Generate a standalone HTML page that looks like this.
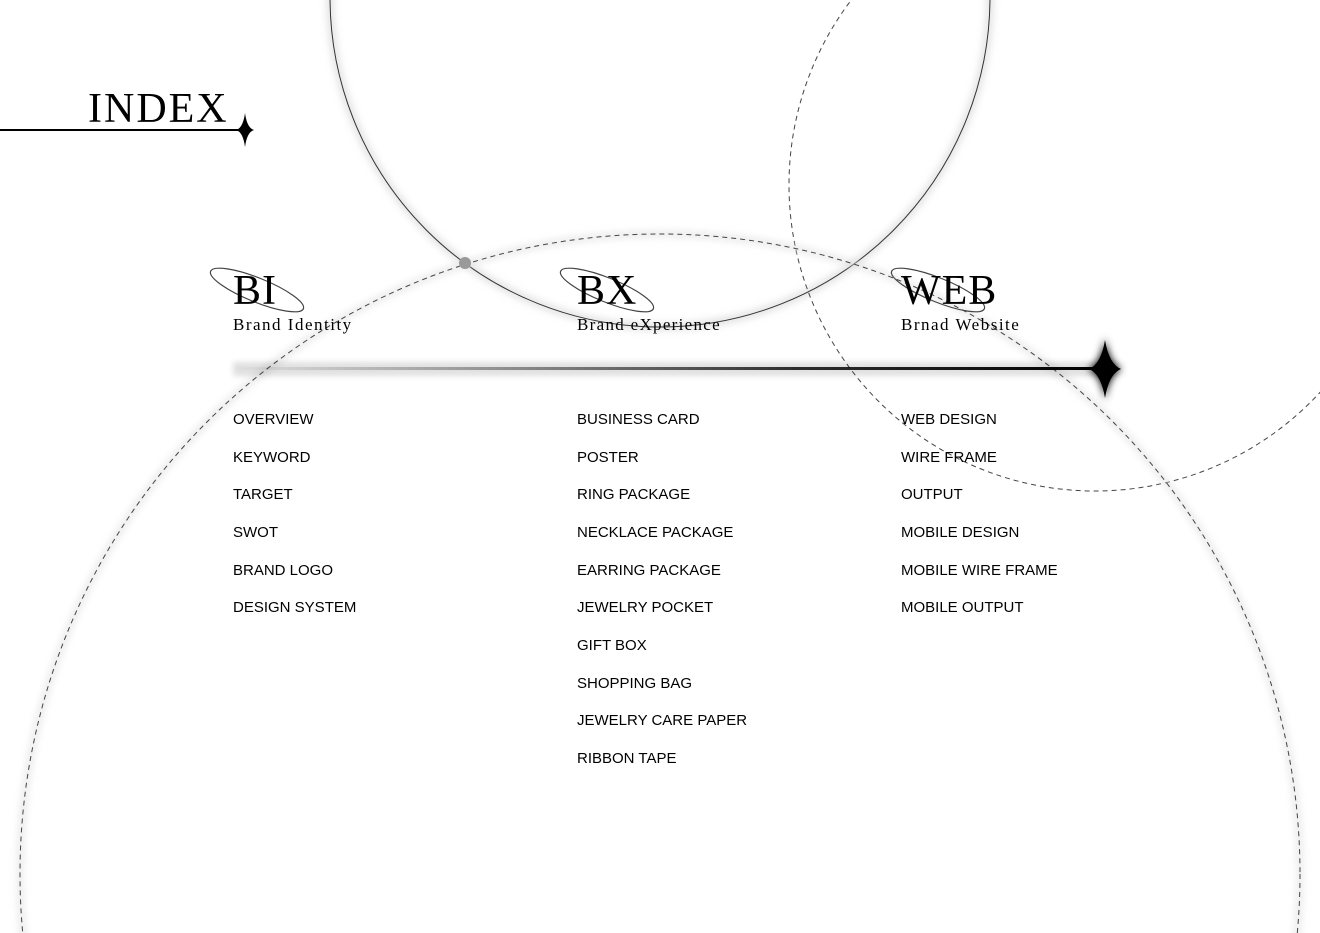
<!DOCTYPE html>
<html><head><meta charset="utf-8"><style>
html,body{margin:0;padding:0;background:#fff;overflow:hidden;width:1320px;height:933px}
svg{display:block}
.s{font-family:"Liberation Serif",serif;fill:#000}
.l{font-family:"Liberation Sans",sans-serif;font-size:15px;fill:#000}
</style></head><body>
<svg width="1320" height="933" viewBox="0 0 1320 933" xmlns="http://www.w3.org/2000/svg">
<defs>
<linearGradient id="g" x1="233" y1="0" x2="1100" y2="0" gradientUnits="userSpaceOnUse">
<stop offset="0" stop-color="#000" stop-opacity="0"/>
<stop offset="0.3" stop-color="#000" stop-opacity="0.35"/>
<stop offset="0.65" stop-color="#000" stop-opacity="0.8"/>
<stop offset="1" stop-color="#000"/>
</linearGradient>
<filter id="b" x="-50%" y="-50%" width="200%" height="200%"><feGaussianBlur stdDeviation="4"/></filter>
<filter id="b2" x="-5%" y="-500%" width="110%" height="1100%"><feGaussianBlur stdDeviation="3"/></filter>
</defs>
<circle cx="660" cy="-3" r="330" fill="none" stroke="#ccc" stroke-width="4" filter="url(#b)"/>
<circle cx="660" cy="-3" r="330" fill="none" stroke="#333" stroke-width="1"/>
<circle cx="1095" cy="185" r="306" fill="none" stroke="#444" stroke-width="1" stroke-dasharray="5,4"/>
<circle cx="660" cy="874" r="640" fill="none" stroke="#ddd" stroke-width="4" filter="url(#b)"/>
<circle cx="660" cy="874" r="640" fill="none" stroke="#444" stroke-width="1" stroke-dasharray="5,4"/>
<circle cx="465" cy="263" r="6" fill="#999"/>

<line x1="0" y1="130" x2="242" y2="130" stroke="#000" stroke-width="2"/>
<path d="M245 113 Q247 128 254 130 Q247 132 245 147 Q243 132 236 130 Q243 128 245 113Z" fill="#000"/>
<text class="s" x="88" y="122" font-size="42" letter-spacing="2">INDEX</text>

<rect x="233" y="362" width="870" height="14" fill="#000" opacity="0.12" filter="url(#b2)"/>
<rect x="233" y="367" width="870" height="3" fill="url(#g)"/>
<path d="M1105 338 Q1109 364 1122 369 Q1109 374 1105 400 Q1101 374 1088 369 Q1101 364 1105 338Z" fill="#000" filter="url(#b)"/>
<path d="M1105 340 Q1109 364 1121 369 Q1109 374 1105 398 Q1101 374 1089 369 Q1101 364 1105 340Z" fill="#000"/>

<g fill="none" stroke="#444" stroke-width="1.2">
<ellipse cx="257" cy="290" rx="50" ry="12" transform="rotate(22 257 290)"/>
<ellipse cx="607" cy="290" rx="50" ry="12" transform="rotate(22 607 290)"/>
<ellipse cx="938" cy="290" rx="50" ry="12" transform="rotate(22 938 290)"/>
</g>
<text class="s" x="233" y="304" font-size="42" letter-spacing="1">BI</text>
<text class="s" x="577" y="304" font-size="42" letter-spacing="1">BX</text>
<text class="s" x="901" y="304" font-size="42" letter-spacing="1">WEB</text>
<text class="s" x="233" y="330" font-size="17" letter-spacing="1.5">Brand Identity</text>
<text class="s" x="577" y="330" font-size="17" letter-spacing="1.3">Brand eXperience</text>
<text class="s" x="901" y="330" font-size="17" letter-spacing="1.5">Brnad Website</text>

<g class="l">
<text x="233" y="424">OVERVIEW</text>
<text x="233" y="462">KEYWORD</text>
<text x="233" y="499">TARGET</text>
<text x="233" y="537">SWOT</text>
<text x="233" y="575">BRAND LOGO</text>
<text x="233" y="612">DESIGN SYSTEM</text>
<text x="577" y="424">BUSINESS CARD</text>
<text x="577" y="462">POSTER</text>
<text x="577" y="499">RING PACKAGE</text>
<text x="577" y="537">NECKLACE PACKAGE</text>
<text x="577" y="575">EARRING PACKAGE</text>
<text x="577" y="612">JEWELRY POCKET</text>
<text x="577" y="650">GIFT BOX</text>
<text x="577" y="688">SHOPPING BAG</text>
<text x="577" y="725">JEWELRY CARE PAPER</text>
<text x="577" y="763">RIBBON TAPE</text>
<text x="901" y="424">WEB DESIGN</text>
<text x="901" y="462">WIRE FRAME</text>
<text x="901" y="499">OUTPUT</text>
<text x="901" y="537">MOBILE DESIGN</text>
<text x="901" y="575">MOBILE WIRE FRAME</text>
<text x="901" y="612">MOBILE OUTPUT</text>
</g>
</svg>
</body></html>
